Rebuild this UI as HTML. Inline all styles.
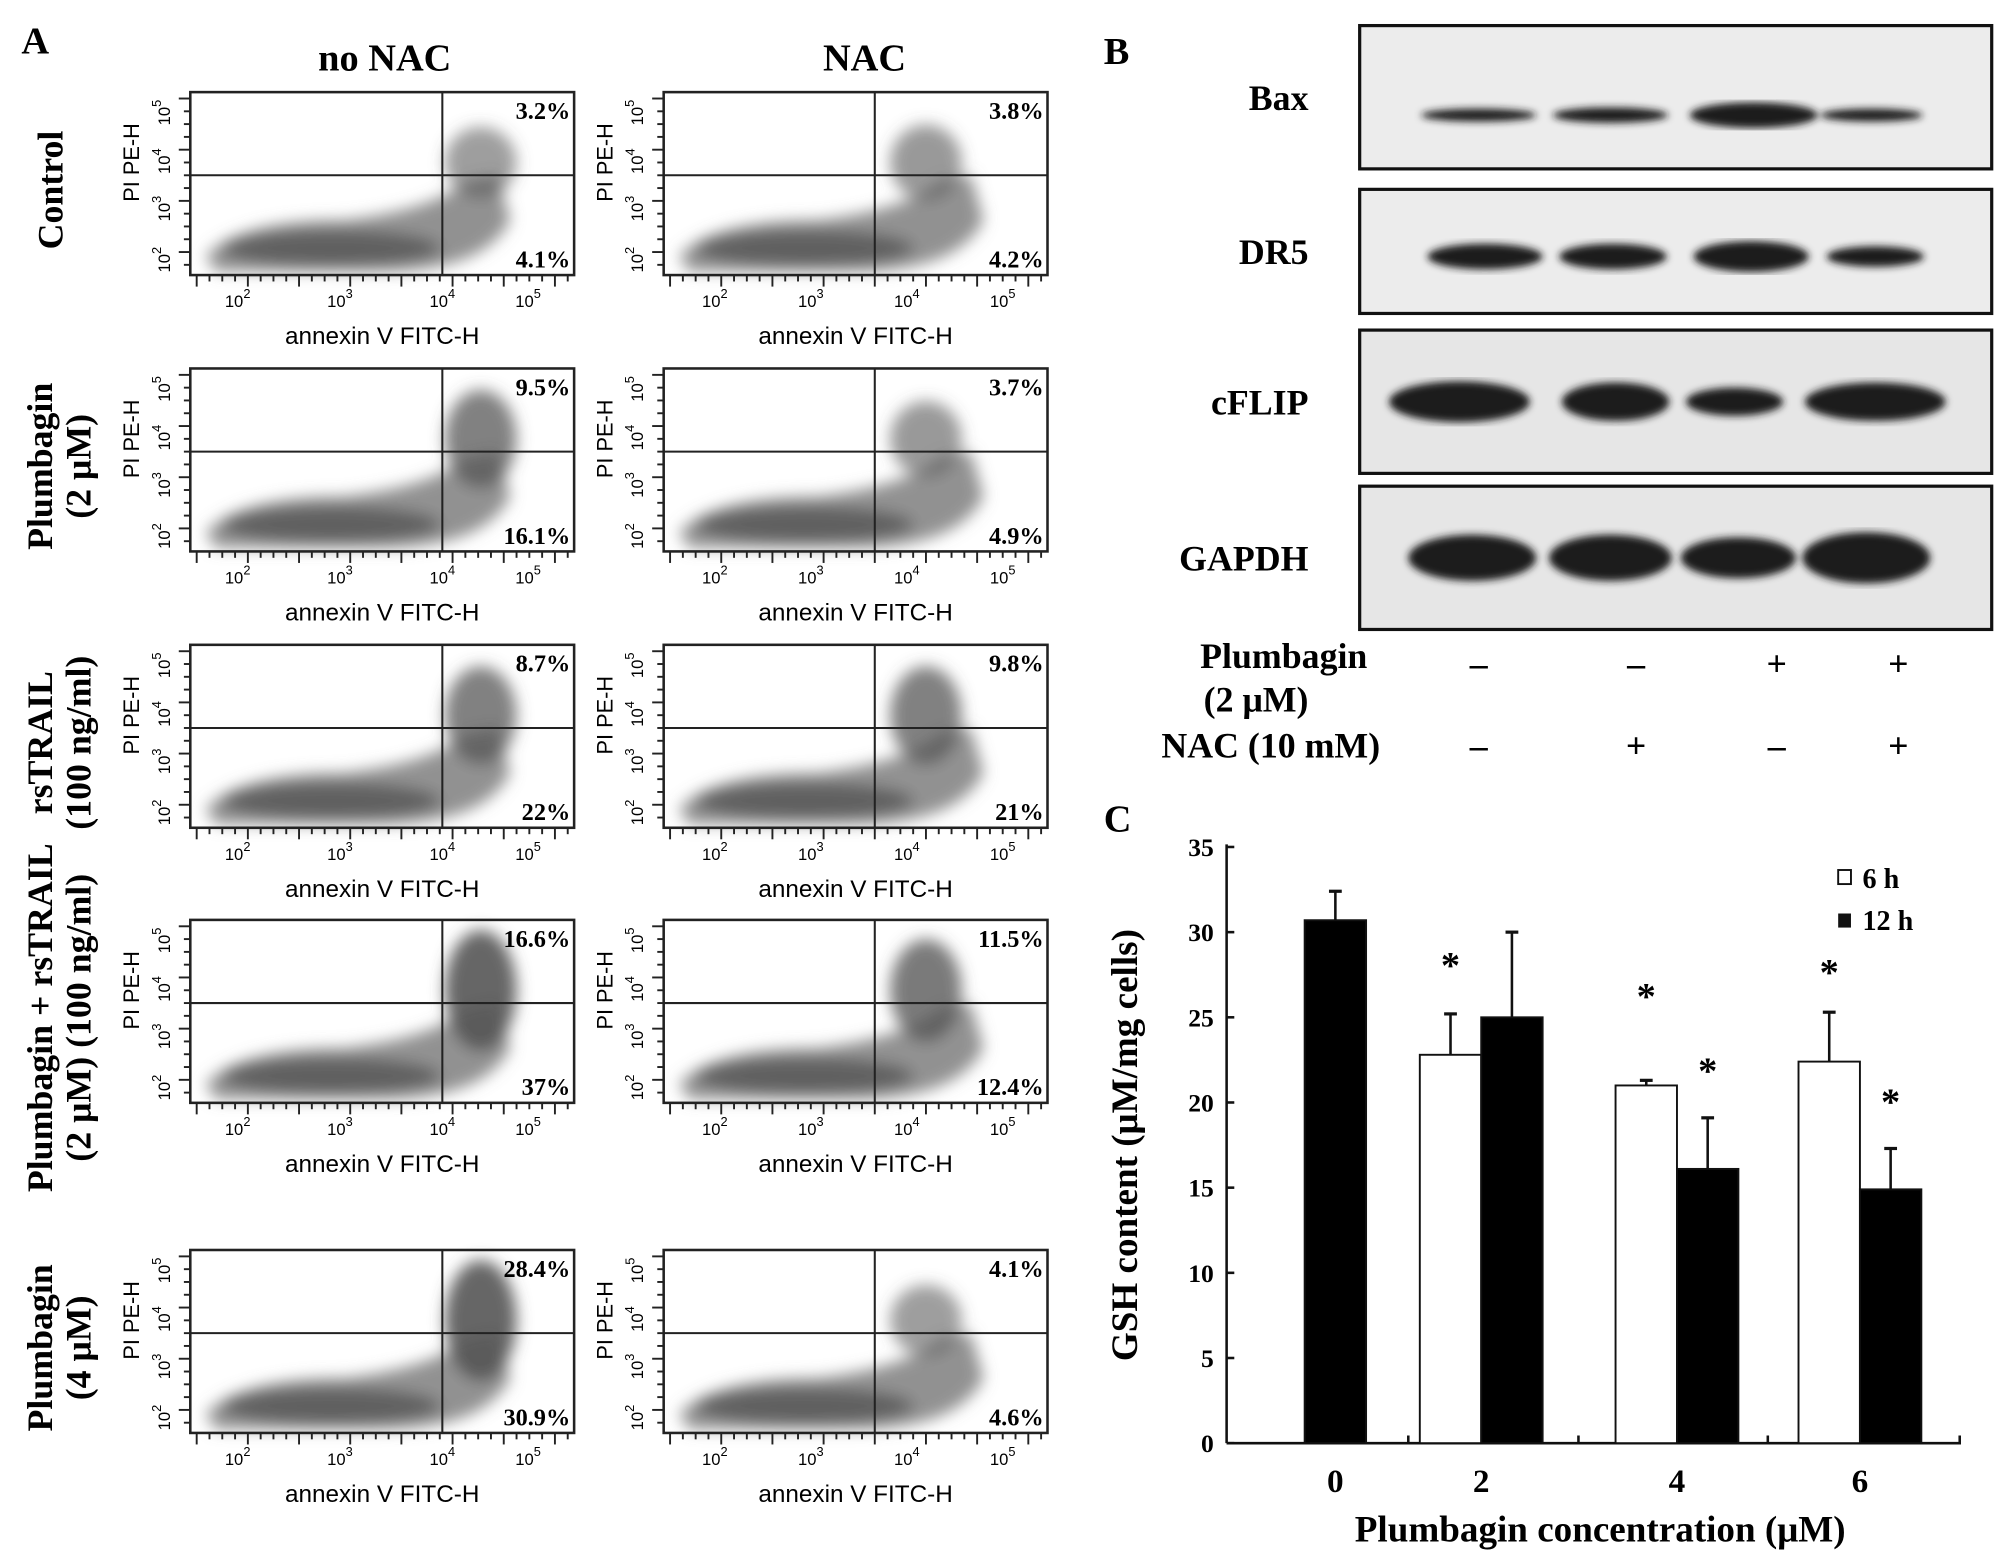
<!DOCTYPE html>
<html><head><meta charset="utf-8">
<style>
html,body{margin:0;padding:0;background:#fff;}
svg{display:block;}
.serif{font-family:"Liberation Serif",serif;font-weight:bold;}
.sans{font-family:"Liberation Sans",sans-serif;}
</style></head>
<body>
<svg id="fig" width="2008" height="1566" viewBox="0 0 1568 1224" xmlns="http://www.w3.org/2000/svg">
<defs>
<filter id="blur" x="-20%" y="-50%" width="140%" height="200%"><feGaussianBlur stdDeviation="6"/></filter>
<filter id="blur2"><feGaussianBlur stdDeviation="3"/></filter>
</defs>
<g id="panelA"></g>
<g id="panelB"></g>
<g id="panelC"></g>
</svg>
<script>
// ---- Panel A data ----
const rowLabels = [["Control"],["Plumbagin","(2 μM)"],["rsTRAIL","(100 ng/ml)"],["Plumbagin + rsTRAIL","(2 μM)  (100 ng/ml)"],["Plumbagin","(4 μM)"]];
const upperRightPct = [["3.2%","3.8%"],["9.5%","3.7%"],["8.7%","9.8%"],["16.6%","11.5%"],["28.4%","4.1%"]];
const lowerRightPct = [["4.1%","4.2%"],["16.1%","4.9%"],["22%","21%"],["37%","12.4%"],["30.9%","4.6%"]];
// ---- Panel C data ----
const categories = ["0","2","4","6"];
const values6h = [null, 22.8, 21.0, 22.4];
const err6h = [null, 2.4, 0.3, 2.9];
const values12h = [30.7, 25.0, 16.1, 14.9];
const err12h = [1.7, 5.0, 3.0, 2.4];
const sig6h = [false, true, true, true];
const sig12h = [false, false, true, true];
const yTicks = [0,5,10,15,20,25,30,35];

const NS = "http://www.w3.org/2000/svg";
function mk(parent, tag, attrs, text){
  const e = document.createElementNS(NS, tag);
  for (const k in attrs) e.setAttribute(k, attrs[k]);
  if (text !== undefined) e.textContent = text;
  parent.appendChild(e);
  return e;
}

// ===== Panel A =====
const A = document.getElementById('panelA');
let t = mk(A,'text',{x:16,y:42,class:'serif','font-size':30});
t.textContent='A';


t = mk(A,'text',{x:300,y:55,class:'serif','font-size':30,'text-anchor':'middle'},'no NAC');


t = mk(A,'text',{x:675,y:55,class:'serif','font-size':30,'text-anchor':'middle'},'NAC');



const rowY = [72, 288, 504, 719, 977];
const colX = [148, 518];
const BW = 300, BH = 143;
const density = [[0.45,0.5],[0.75,0.5],[0.75,0.75],[1,0.8],[1,0.45]];
rowY.forEach((y0, r) => {
  const lg = mk(A,'g',{});
  
  
  const cy = y0 + BH/2 + 5;
  const lines = rowLabels[r];
  lines.forEach((ln, i) => {
    const x = lines.length===1 ? 48 : (i===0 ? 40 : 70);
    mk(lg,'text',{x:x,y:cy,class:'serif','font-size':28,'text-anchor':'middle',transform:`rotate(-90 ${x} ${cy})`},ln);
  });
  colX.forEach((x0, c) => {
    const g = mk(A,'g',{});
    
    
    const d = density[r][c];
    const qx = x0 + (c===0?197:165), qy = y0 + 65;
    const cl = mk(g,'g',{filter:'url(#blur)'});
    mk(cl,'path',{d:`M${x0+12} ${y0+128} Q${x0+40} ${y0+100} ${x0+120} ${y0+100} Q${x0+190} ${y0+92} ${x0+215} ${y0+70} L${x0+240} ${y0+65} L${x0+250} ${y0+100} Q${x0+230} ${y0+140} ${x0+150} ${y0+140} L${x0+20} ${y0+140} Z`,fill:'#777','fill-opacity':0.8});
    mk(cl,'ellipse',{cx:qx+30+ (c? 10:0),cy:y0+55,rx:28,ry:35*d+12,fill:'#555','fill-opacity':0.3+0.6*d});
    mk(cl,'ellipse',{cx:x0+110,cy:y0+122,rx:85,ry:14,fill:'#555','fill-opacity':0.8});
    mk(g,'rect',{x:x0,y:y0,width:BW,height:BH,fill:'none',stroke:'#222','stroke-width':2});
    mk(g,'line',{x1:qx,y1:y0,x2:qx,y2:y0+BH,stroke:'#222','stroke-width':1.6});
    mk(g,'line',{x1:x0,y1:qy,x2:x0+BW,y2:qy,stroke:'#222','stroke-width':1.6});
    for(let k=0;k<30;k++){ const tx=x0+5+k*10; mk(g,'line',{x1:tx,y1:y0+BH,x2:tx,y2:y0+BH+(k%4===0?9:5),stroke:'#222','stroke-width':1.5}); }
    for(let k=0;k<14;k++){ const ty=y0+5+k*10; mk(g,'line',{x1:x0,y1:ty,x2:x0-(k%4===0?9:5),y2:ty,stroke:'#222','stroke-width':1.5}); }
    const xt = c===0?[37,117,197,264]:[40,115,190,265];
    ["2","3","4","5"].forEach((e,i)=>{
      const tt = mk(g,'text',{x:x0+xt[i],y:y0+BH+25,class:'sans','font-size':13,'text-anchor':'middle'},'10');
      mk(tt,'tspan',{dy:-7,'font-size':10},e);
    });
    const ytl=[125,85,48,10];
    ["2","3","4","5"].forEach((e,i)=>{
      const yy=y0+ytl[i]+6, xx=x0-16;
      const tt = mk(g,'text',{x:xx,y:yy,class:'sans','font-size':13,'text-anchor':'middle',transform:`rotate(-90 ${xx} ${yy})`},'10');
      mk(tt,'tspan',{dy:-7,'font-size':10},e);
    });
    const px=x0-40, py=y0+55;
    mk(g,'text',{x:px,y:py,class:'sans','font-size':17,'text-anchor':'middle',transform:`rotate(-90 ${px} ${py})`},'PI PE-H');
    mk(g,'text',{x:x0+BW/2,y:y0+BH+54,class:'sans','font-size':19,'text-anchor':'middle'},'annexin V FITC-H');
    let p = mk(g,'text',{x:x0+BW-3,y:y0+21,class:'serif','font-size':19,'text-anchor':'end'},upperRightPct[r][c]);
    
    
    p = mk(g,'text',{x:x0+BW-3,y:y0+BH-6,class:'serif','font-size':19,'text-anchor':'end'},lowerRightPct[r][c]);
    
    
  });
});

// ===== Panel B =====
const B = document.getElementById('panelB');
t = mk(B,'text',{x:862,y:50,class:'serif','font-size':30},'B');


const blots = [
 {name:'Bax',y:20,h:112,off:14,bands:[[1155,45,5],[1258,45,6],[1370,50,10],[1462,40,5]],bg:'#ececec'},
 {name:'DR5',y:148,h:97,off:4,bands:[[1160,45,10],[1260,42,10],[1368,45,12],[1465,38,8]],bg:'#ececec'},
 {name:'cFLIP',y:258,h:112,off:0,bands:[[1140,55,16],[1262,42,15],[1355,38,11],[1465,55,15]],bg:'#e6e6e6'},
 {name:'GAPDH',y:380,h:112,off:0,bands:[[1150,50,18],[1258,48,18],[1358,45,16],[1458,50,20]],bg:'#e6e6e6'}
];
const laneX = [1155,1260,1370,1465];
blots.forEach(b=>{
  const g = mk(B,'g',{});
  
  
  mk(g,'rect',{x:1062,y:b.y,width:494,height:b.h,fill:b.bg,stroke:'#111','stroke-width':2.5});
  const bg = mk(g,'g',{filter:'url(#blur2)'});
  b.bands.forEach(bd=>{ mk(bg,'ellipse',{cx:bd[0],cy:b.y+b.h/2+b.off,rx:bd[1],ry:bd[2],fill:'#1a1a1a'}); });
  mk(g,'text',{x:1022,y:b.y+b.h/2+10,class:'serif','font-size':28,'text-anchor':'end'},b.name);
});
mk(B,'text',{x:1068,y:522,class:'serif','font-size':28,'text-anchor':'end'},'Plumbagin');
mk(B,'text',{x:1022,y:556,class:'serif','font-size':28,'text-anchor':'end'},'(2 μM)');
mk(B,'text',{x:1078,y:592,class:'serif','font-size':28,'text-anchor':'end'},'NAC (10 mM)');
const plumbSigns=['–','–','+','+'], nacSigns=['–','+','–','+'];
laneX.forEach((x,i)=>{
  let s=mk(B,'text',{x:x+(i===0?0:18),y:528,class:'serif','font-size':28,'text-anchor':'middle'},plumbSigns[i]);
  
  
  s=mk(B,'text',{x:x+(i===0?0:18),y:592,class:'serif','font-size':28,'text-anchor':'middle'},nacSigns[i]);
  
  
});

// ===== Panel C =====
const C = document.getElementById('panelC');
t = mk(C,'text',{x:862,y:650,class:'serif','font-size':30},'C');


const X0=958, X1=1532, Y0=1128, Ytop=662, yMax=35;
const yS = v => Y0 - (Y0-Ytop)*v/yMax;
const catX = [1043, 1157, 1310, 1453];
const BWd = 48;
const ax = mk(C,'g',{});


mk(ax,'line',{x1:X0,y1:Ytop-2,x2:X0,y2:Y0,stroke:'#111','stroke-width':2});
yTicks.forEach(v=>{
  mk(ax,'line',{x1:X0,y1:yS(v),x2:X0+6,y2:yS(v),stroke:'#111','stroke-width':2});
  mk(ax,'text',{x:X0-10,y:yS(v)+7,class:'serif','font-size':20,'font-weight':'normal','text-anchor':'end'},String(v));
});
const xa = mk(C,'g',{});


mk(xa,'line',{x1:X0,y1:Y0,x2:X1,y2:Y0,stroke:'#111','stroke-width':2});
[1100,1233,1381,1531].forEach(x=>mk(xa,'line',{x1:x,y1:Y0,x2:x,y2:Y0-6,stroke:'#111','stroke-width':2}));
categories.forEach((c,i)=>mk(xa,'text',{x:catX[i],y:Y0+38,class:'serif','font-size':26,'text-anchor':'middle'},c));
mk(C,'text',{x:1250,y:1205,class:'serif','font-size':29,'text-anchor':'middle'},'Plumbagin concentration (μM)');
mk(C,'text',{x:888,y:895,class:'serif','font-size':29,'text-anchor':'middle',transform:'rotate(-90 888 895)'},'GSH content (μM/mg cells)');
function drawBar(x, v, e, fill, name){
  const g = mk(C,'g',{});
  
  
  mk(g,'line',{x1:x+BWd/2,y1:yS(v),x2:x+BWd/2,y2:yS(v+e),stroke:'#111','stroke-width':2});
  mk(g,'line',{x1:x+BWd/2-5,y1:yS(v+e),x2:x+BWd/2+5,y2:yS(v+e),stroke:'#111','stroke-width':2.5});
  mk(g,'rect',{x:x,y:yS(v),width:BWd,height:Y0-yS(v),fill:fill,stroke:'#111','stroke-width':1.5});
}
function star(x, v, e){
  const s = mk(C,'text',{x:x,y:yS(v+e)-20,class:'serif','font-size':30,'text-anchor':'middle'},'*');
  
  
}
categories.forEach((c,i)=>{
  if (values6h[i]===null){
    drawBar(catX[i]-BWd/2, values12h[i], err12h[i], '#000', 'bar-12h-'+c);
  } else {
    drawBar(catX[i]-BWd, values6h[i], err6h[i], '#fff', 'bar-6h-'+c);
    drawBar(catX[i], values12h[i], err12h[i], '#000', 'bar-12h-'+c);
    if (sig6h[i]) star(catX[i]-BWd/2, values6h[i], Math.max(err6h[i],3));
    if (sig12h[i]) star(catX[i]+BWd/2, values12h[i], err12h[i]+0.5);
  }
});
const lg = mk(C,'g',{});


mk(lg,'rect',{x:1436,y:680,width:10,height:11,fill:'#fff',stroke:'#111','stroke-width':1.5});
mk(lg,'text',{x:1455,y:694,class:'serif','font-size':22},'6 h');
mk(lg,'rect',{x:1436,y:714,width:10,height:11,fill:'#111'});
mk(lg,'text',{x:1455,y:727,class:'serif','font-size':22},'12 h');
</script>
</body></html>
